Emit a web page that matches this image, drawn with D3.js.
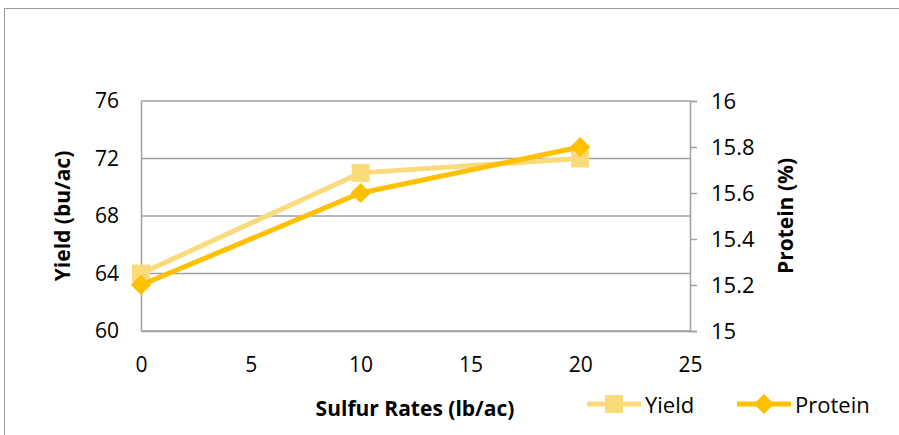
<!DOCTYPE html>
<html>
<head>
<meta charset="utf-8">
<script src="https://cdn.jsdelivr.net/npm/d3@7"></script>
<style>
  body { margin: 0; background: #fff; }
  text { font-family: "Open Sans", sans-serif; fill: #000; }
</style>
</head>
<body>
<div id="chart"></div>
<script>
const rates = [0, 10, 20];
const yieldVals = [64, 71, 72];
const proteinVals = [15.2, 15.6, 15.8];
const xTicks = [0, 5, 10, 15, 20, 25];
const yTicks = [60, 64, 68, 72, 76];
const y2Ticks = [15, 15.2, 15.4, 15.6, 15.8, 16];

const width = 899, height = 435;
const margin = { top: 101, right: 209, bottom: 104, left: 141 };

const yieldColor = "#fadb7c";
const proteinColor = "#ffc000";
const grey = "#a0a0a0";

const svg = d3.select("#chart")
  .append("svg")
  .attr("width", width)
  .attr("height", height);

// outer frame
svg.append("rect")
  .attr("x", 4.5).attr("y", 8.5)
  .attr("width", 920).attr("height", 460)
  .attr("fill", "none")
  .attr("stroke", "#999");

let x = d3.scaleLinear()
  .domain([0, 25])
  .range([margin.left, width - margin.right]);

let y = d3.scaleLinear()
  .domain([60, 76])
  .range([height - margin.bottom, margin.top]);

let y2 = d3.scaleLinear()
  .domain([15, 16])
  .range([height - margin.bottom, margin.top]);

// gridlines
svg.append("g")
  .selectAll("line")
  .data(yTicks)
  .join("line")
  .attr("x1", x(0)).attr("x2", x(25))
  .attr("y1", d => y(d)).attr("y2", d => y(d))
  .attr("stroke", grey).attr("stroke-width", 1.5);

// left axis
let gl = svg.append("g")
  .attr("transform", `translate(${x(0)},0)`)
  .call(d3.axisLeft(y).tickValues(yTicks).tickSize(0).tickPadding(22));
gl.select(".domain").attr("stroke", grey).attr("stroke-width", 1.5);
gl.selectAll("text").style("font-size", "21px").attr("fill", "#000");

// right axis
let gr = svg.append("g")
  .attr("transform", `translate(${x(25)},0)`)
  .call(d3.axisRight(y2).tickValues(y2Ticks).tickSize(7).tickPadding(14).tickFormat(d3.format("")));
gr.select(".domain").attr("stroke", grey).attr("stroke-width", 1.5);
gr.selectAll(".tick line").attr("stroke", grey).attr("stroke-width", 1.5);
gr.selectAll("text").style("font-size", "22px").attr("fill", "#000");

// bottom axis
let gb = svg.append("g")
  .attr("transform", `translate(0,${height - margin.bottom})`)
  .call(d3.axisBottom(x).tickValues(xTicks).tickSize(0).tickPadding(26));
gb.select(".domain").attr("stroke", grey).attr("stroke-width", 1.5);
gb.selectAll("text").style("font-size", "21px").attr("fill", "#000");

// axis titles
svg.append("text")
  .attr("transform", `translate(70,${(y(60) + y(76)) / 2}) rotate(-90)`)
  .attr("text-anchor", "middle")
  .style("font-size", "21px").style("font-weight", "bold")
  .text("Yield (bu/ac)");

svg.append("text")
  .attr("transform", `translate(793,${(y(60) + y(76)) / 2}) rotate(-90)`)
  .attr("text-anchor", "middle")
  .style("font-size", "21px").style("font-weight", "bold")
  .text("Protein (%)");

svg.append("text")
  .attr("x", 415).attr("y", 416)
  .attr("text-anchor", "middle")
  .style("font-size", "21px").style("font-weight", "bold")
  .text("Sulfur Rates (lb/ac)");

// series
let yieldData = rates.map((r, i) => ({ r, v: yieldVals[i] }));
let proteinData = rates.map((r, i) => ({ r, v: proteinVals[i] }));

svg.append("path")
  .datum(yieldData)
  .attr("fill", "none")
  .attr("stroke", yieldColor)
  .attr("stroke-width", 5)
  .attr("d", d3.line().x(d => x(d.r)).y(d => y(d.v)));

svg.append("g")
  .selectAll("rect")
  .data(yieldData)
  .join("rect")
  .attr("x", d => x(d.r) - 9).attr("y", d => y(d.v) - 9)
  .attr("width", 18).attr("height", 18)
  .attr("fill", yieldColor);

svg.append("path")
  .datum(proteinData)
  .attr("fill", "none")
  .attr("stroke", proteinColor)
  .attr("stroke-width", 5)
  .attr("d", d3.line().x(d => x(d.r)).y(d => y2(d.v)));

let diamond = d3.symbol().type(d3.symbolDiamond2).size(260);
svg.append("g")
  .selectAll("path")
  .data(proteinData)
  .join("path")
  .attr("transform", d => `translate(${x(d.r)},${y2(d.v)})`)
  .attr("d", diamond)
  .attr("fill", proteinColor);

// legend
let legend = [
  { name: "Yield", color: yieldColor, x0: 587, square: true },
  { name: "Protein", color: proteinColor, x0: 737, square: false }
];
let ly = 404;
for (let l of legend) {
  let g = svg.append("g");
  g.append("line")
    .attr("x1", l.x0).attr("x2", l.x0 + 54)
    .attr("y1", ly).attr("y2", ly)
    .attr("stroke", l.color).attr("stroke-width", 5);
  if (l.square) {
    g.append("rect")
      .attr("x", l.x0 + 27 - 9).attr("y", ly - 9)
      .attr("width", 18).attr("height", 18)
      .attr("fill", l.color);
  } else {
    g.append("path")
      .attr("transform", `translate(${l.x0 + 27},${ly})`)
      .attr("d", diamond)
      .attr("fill", l.color);
  }
  g.append("text")
    .attr("x", l.x0 + 58).attr("y", ly)
    .attr("dominant-baseline", "central")
    .style("font-size", "22px")
    .text(l.name);
}
</script>
</body>
</html>
